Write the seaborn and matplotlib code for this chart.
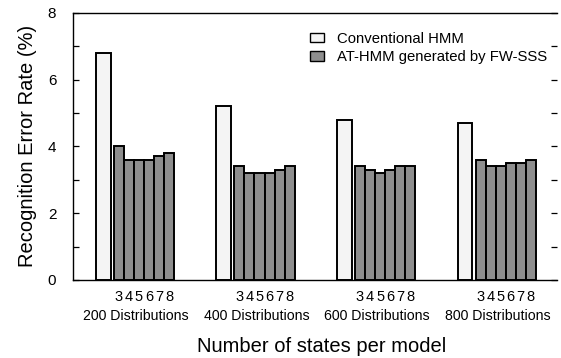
import matplotlib
matplotlib.use("Agg")
import matplotlib.pyplot as plt
from matplotlib.patches import Patch
import numpy as np
import seaborn as sns

# data
groups = ["200 Distributions", "400 Distributions", "600 Distributions", "800 Distributions"]
states = ["3", "4", "5", "6", "7", "8"]
conventional = [6.8, 5.2, 4.8, 4.7]
at_hmm = [
    [4.0, 3.6, 3.6, 3.6, 3.7, 3.8],
    [3.4, 3.2, 3.2, 3.2, 3.3, 3.4],
    [3.4, 3.3, 3.2, 3.3, 3.4, 3.4],
    [3.6, 3.4, 3.4, 3.5, 3.5, 3.6],
]

sns.set_style("ticks", {"text.color": "black", "axes.labelcolor": "black",
                        "xtick.color": "black", "ytick.color": "black",
                        "axes.edgecolor": "black"})
plt.rcParams["font.family"] = ["Liberation Sans", "DejaVu Sans"]

fig = plt.figure(figsize=(5.61, 3.58), dpi=100)
ax = fig.add_axes([0.130, 0.218, 0.863, 0.746])

# bar layout (in units of one group)
conv_w = 0.124
at_w = 0.083
at_off = 0.129

conv_x = np.arange(len(groups), dtype=float)
at_x = np.array([g + at_off + k * at_w for g in range(len(groups)) for k in range(len(states))])
at_x = np.round(at_x, 4)
at_y = np.array(at_hmm).ravel()

sns.barplot(x=conv_x, y=conventional, native_scale=True, width=conv_w,
            color="#f4f4f4", saturation=1, edgecolor="black", linewidth=1.4,
            errorbar=None, ax=ax)
sns.barplot(x=at_x, y=at_y, native_scale=True, width=1.0,
            color="#8e8e8e", saturation=1, edgecolor="black", linewidth=1.4,
            errorbar=None, ax=ax)

ax.set_xlim(-0.253, 3.764)
ax.set_ylim(0, 8)

# y ticks: labels on even values, marks on every integer, both sides
ax.set_yticks([0, 2, 4, 6, 8])
ax.set_yticks([1, 3, 5, 7], minor=True)
ax.tick_params(axis="y", which="both", direction="in", length=4, width=0.9,
               right=True, labelsize=11, pad=12)

# x ticks: state digits under each bar, group names below
ax.set_xticks(at_x)
ax.set_xticklabels(states * len(groups))
ax.set_xticks(conv_x + 0.27, minor=True)
ax.set_xticklabels(groups, minor=True)
ax.tick_params(axis="x", which="major", length=0, labelsize=10.5, pad=7)
ax.tick_params(axis="x", which="minor", length=0, labelsize=10.2, pad=21)

ax.set_ylabel("Recognition Error Rate (%)", fontsize=14.5, labelpad=8)
ax.set_xlabel("Number of states per model", fontsize=14.5, labelpad=10)
ax.xaxis.label.set_x(0.514)

for side in ["left", "bottom", "top"]:
    ax.spines[side].set_linewidth(1.0)
ax.spines["right"].set_visible(False)

handles = [
    Patch(facecolor="#f4f4f4", edgecolor="black", linewidth=1.0, label="Conventional HMM"),
    Patch(facecolor="#8e8e8e", edgecolor="black", linewidth=1.0, label="AT-HMM generated by FW-SSS"),
]
ax.legend(handles=handles, loc="upper left", bbox_to_anchor=(0.49, 0.93),
          frameon=False, fontsize=10.7, handlelength=0.9, handleheight=0.6,
          handletextpad=0.9, labelspacing=0.32, borderpad=0, borderaxespad=0)

fig.savefig("out.png", dpi=100)
